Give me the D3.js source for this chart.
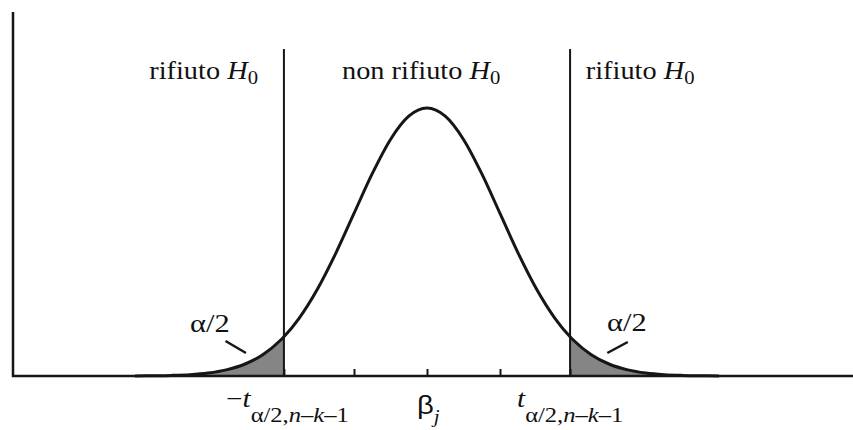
<!DOCTYPE html>
<html>
<head>
<meta charset="utf-8">
<script src="https://cdn.jsdelivr.net/npm/d3@7"></script>
<style>
  html, body { margin: 0; padding: 0; background: #fff; }
  svg { display: block; }
  text { font-family: "Liberation Serif", "Times New Roman", serif; fill: #111; }
</style>
</head>
<body>
<svg id="chart" width="853" height="430"></svg>
<script>
// Density of the test statistic, sampled along the standardized axis
const zValues = [-4, -3.75, -3.5, -3.25, -3, -2.75, -2.5, -2.25, -2, -1.96, -1.75, -1.5, -1.25, -1, -0.75, -0.5, -0.25,
                 0, 0.25, 0.5, 0.75, 1, 1.25, 1.5, 1.75, 1.96, 2, 2.25, 2.5, 2.75, 3, 3.25, 3.5, 3.75, 4];
const densityValues = [0.0001, 0.0004, 0.0009, 0.0020, 0.0044, 0.0091, 0.0175, 0.0317, 0.0540, 0.0584, 0.0863, 0.1295, 0.1826, 0.2420, 0.3011, 0.3521, 0.3867,
                       0.3989, 0.3867, 0.3521, 0.3011, 0.2420, 0.1826, 0.1295, 0.0863, 0.0584, 0.0540, 0.0317, 0.0175, 0.0091, 0.0044, 0.0020, 0.0009, 0.0004, 0.0001];
const criticalValue = 1.96;           // t_{α/2, n−k−1}
const tickValues = [-1.96, -1, 0, 1, 1.96];
const regionLabels = ["rifiuto ", "non rifiuto ", "rifiuto "];

const points = zValues.map((z, i) => ({ z, d: densityValues[i] }));

const svg = d3.select("#chart");
const x = d3.scaleLinear().domain([-1, 1]).range([354, 500]);
const y = d3.scaleLinear().domain([0, 0.3989]).range([376, 108]);
const baseY = y(0);
const ink = "#161616";

// shaded rejection tails
const area = d3.area().x(p => x(p.z)).y0(baseY).y1(p => y(p.d)).curve(d3.curveMonotoneX);
svg.append("path").datum(points.filter(p => p.z <= -criticalValue))
  .attr("d", area).attr("fill", "#858585");
svg.append("path").datum(points.filter(p => p.z >= criticalValue))
  .attr("d", area).attr("fill", "#858585");

// vertical axis
svg.append("line").attr("x1", 13).attr("x2", 13).attr("y1", 12).attr("y2", baseY + 1)
  .attr("stroke", ink).attr("stroke-width", 2.5);

// critical value lines
[-criticalValue, criticalValue].forEach(c => {
  svg.append("line").attr("x1", x(c)).attr("x2", x(c)).attr("y1", 49).attr("y2", baseY)
    .attr("stroke", ink).attr("stroke-width", 2);
});

// horizontal axis with short upward ticks
svg.append("line").attr("x1", 12).attr("x2", 853).attr("y1", baseY).attr("y2", baseY)
  .attr("stroke", ink).attr("stroke-width", 2.5);
const axis = svg.append("g").attr("transform", `translate(0,${baseY})`)
  .call(d3.axisBottom(x).tickValues(tickValues).tickSize(-7).tickFormat(""));
axis.select(".domain").remove();
axis.selectAll(".tick line").attr("stroke", ink).attr("stroke-width", 2);

// density curve
const line = d3.line().x(p => x(p.z)).y(p => y(p.d)).curve(d3.curveMonotoneX);
svg.append("path").datum(points).attr("d", line)
  .attr("fill", "none").attr("stroke", ink).attr("stroke-width", 3);

// helper: text group stretched horizontally around its anchor point
function label(px, py, anchor, stretch) {
  return svg.append("g").attr("transform", `translate(${px},${py}) scale(${stretch},1)`)
    .append("text").attr("text-anchor", anchor);
}

// region labels
[x(-3.06), x(-0.08), x(2.92)].forEach((cx, i) => {
  const t = label(cx, 79, "middle", 1.09).attr("font-size", 26);
  t.append("tspan").text(regionLabels[i]);
  t.append("tspan").attr("font-style", "italic").text("H");
  t.append("tspan").attr("font-size", 19).attr("dy", 5).text("0");
});

// α/2 labels with leader lines
label(190, 332, "start", 1.17).attr("font-size", 26).text("α/2");
label(607, 331, "start", 1.17).attr("font-size", 26).text("α/2");
svg.append("line").attr("x1", x(-2.76)).attr("y1", baseY - 35).attr("x2", x(-2.48)).attr("y2", baseY - 23)
  .attr("stroke", ink).attr("stroke-width", 2.5);
svg.append("line").attr("x1", x(2.47)).attr("y1", baseY - 23).attr("x2", x(2.75)).attr("y2", baseY - 34)
  .attr("stroke", ink).attr("stroke-width", 2.5);

// axis labels: −t, β_j, t
function critLabel(px, neg) {
  const t = label(px, 407, "start", 1.17).attr("font-size", 25);
  if (neg) t.append("tspan").text("−");
  t.append("tspan").attr("font-style", "italic").text("t");
  const s = t.append("tspan").attr("font-size", 21).attr("dy", 15);
  s.append("tspan").text("α/2,");
  s.append("tspan").attr("font-style", "italic").text("n");
  s.append("tspan").text("–");
  s.append("tspan").attr("font-style", "italic").text("k");
  s.append("tspan").text("–1");
}
critLabel(226, true);
critLabel(517, false);

const b = label(417, 414, "start", 1.17).attr("font-size", 25);
b.append("tspan").attr("font-family", "'Liberation Sans', Arial, sans-serif").text("β");
b.append("tspan").attr("font-style", "italic").attr("font-size", 18).attr("dy", 9).text("j");
</script>
</body>
</html>
